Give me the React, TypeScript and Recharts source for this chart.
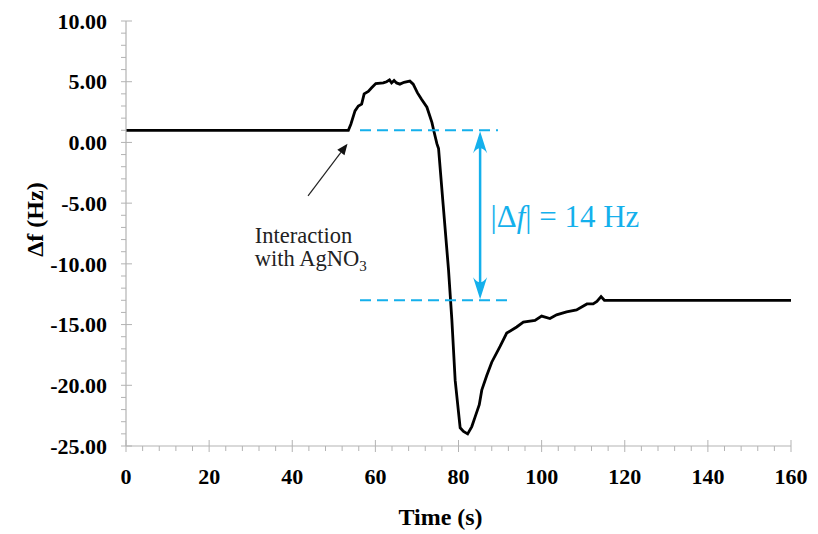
import React from 'react';
import { LineChart, Line, XAxis, YAxis, ReferenceLine, ReferenceDot } from 'recharts';

// ---- data ----
const times = [0, 53.5, 54.1, 55.1, 55.9, 56.7, 57.3, 58.3, 59.1, 60.1, 61.9, 62.7, 63.4, 63.9, 64.5, 65.1, 65.9, 66.9, 68.3, 69.1, 70.1, 71.1, 72.4, 73.6, 74.1, 74.8, 75.2, 76.3, 77.6, 78.4, 79.2, 80.4, 81.2, 82.2, 83.2, 84.0, 85.0, 85.6, 86.8, 88.0, 90.0, 91.6, 94.0, 95.6, 98.4, 100.0, 102.0, 103.6, 106.0, 108.4, 110.9, 112.4, 113.3, 114.3, 115.1, 160];
const values = [1.0, 1.0, 1.5, 2.6, 3.0, 3.15, 4.0, 4.2, 4.5, 4.85, 4.9, 5.0, 5.15, 4.9, 5.1, 4.9, 4.8, 4.95, 5.05, 4.8, 4.1, 3.55, 2.9, 1.65, 0.9, -0.1, -0.5, -5.1, -10.5, -14.6, -19.6, -23.5, -23.8, -24.0, -23.4, -22.6, -21.6, -20.4, -19.2, -18.1, -16.8, -15.7, -15.2, -14.8, -14.65, -14.3, -14.5, -14.2, -13.95, -13.8, -13.3, -13.3, -13.1, -12.7, -13.0, -13.0];

const xMajorTicks = [0, 20, 40, 60, 80, 100, 120, 140, 160];
const xMinorStep = 4;
const yMajorTicks = [-25, -20, -15, -10, -5, 0, 5, 10];
const yMinorStep = 1;

// annotation values
const levelTop = 1;
const levelBottom = -13;
const levelTopSpan = [56.3, 89.5];
const levelBottomSpan = [56.3, 93.1];
const deltaArrowX = 85.2;
const deltaLabelPos = [87.7, -6.94];
const deltaLabel = ['|Δ', 'f', '| = 14 Hz'];
const injectArrow = [[43.8, -4.4], [53.3, -0.1]];
const injectLabelPos = [31.0, -8.3];
const injectLabelLines = ['Interaction', 'with AgNO', '3'];

const data = times.map((t, i) => ({ t, v: values[i] }));
const xTicks = Array.from({ length: 160 / xMinorStep + 1 }, (_, i) => i * xMinorStep);
const yTicks = Array.from({ length: 35 / yMinorStep + 1 }, (_, i) => -25 + i * yMinorStep);

const SERIF = '"Liberation Serif", "Times New Roman", serif';
const AXIS = '#b3b3b3';
const CYAN = '#14b0ec';

const XTick = (props: any) => {
  const { x, y, payload } = props;
  const v = payload.value;
  const major = xMajorTicks.includes(v);
  return (
    <g>
      <line x1={x} x2={x} y1={major ? y - 6 : y} y2={y + (major ? 6 : 5)} stroke={AXIS} strokeWidth={1} />
      {major && (
        <text x={x} y={y + 30} textAnchor="middle" dy="0.35em" fontFamily={SERIF} fontWeight="bold" fontSize={22} fill="#000">
          {v}
        </text>
      )}
    </g>
  );
};

const YTick = (props: any) => {
  const { x, y, payload } = props;
  const v = payload.value;
  const major = yMajorTicks.includes(v);
  return (
    <g>
      <line x1={x - 5} x2={major ? x + 6 : x} y1={y} y2={y} stroke={AXIS} strokeWidth={1} />
      {major && (
        <text x={x - 19} y={y} textAnchor="end" dy="0.35em" fontFamily={SERIF} fontWeight="bold" fontSize={22} fill="#000">
          {v.toFixed(2)}
        </text>
      )}
    </g>
  );
};

const DoubleArrow = (props: any) => {
  const { x1, y1, y2 } = props;
  const top = Math.min(y1, y2);
  const bot = Math.max(y1, y2);
  const x = x1;
  const head = (tipY: number, dir: number) =>
    `M${x},${tipY} L${x - 7},${tipY + dir * 22} Q${x},${tipY + dir * 12} ${x + 7},${tipY + dir * 22} Z`;
  return (
    <g>
      <line x1={x} x2={x} y1={top + 8} y2={bot - 8} stroke={CYAN} strokeWidth={2.5} />
      <path d={head(top + 1, 1)} fill={CYAN} />
      <path d={head(bot - 1, -1)} fill={CYAN} />
    </g>
  );
};

const ThinArrow = (props: any) => {
  const { x1, y1, x2, y2 } = props;
  const ang = Math.atan2(y2 - y1, x2 - x1);
  const L = 11;
  const W = 4.5;
  const bx = x2 - L * Math.cos(ang);
  const by = y2 - L * Math.sin(ang);
  const px = -Math.sin(ang) * W;
  const py = Math.cos(ang) * W;
  return (
    <g>
      <line x1={x1} y1={y1} x2={bx} y2={by} stroke="#222" strokeWidth={1.2} />
      <path d={`M${x2},${y2} L${bx + px},${by + py} L${bx - px},${by - py} Z`} fill="#111" />
    </g>
  );
};

const InjectText = (props: any) => {
  const { cx, cy } = props;
  return (
    <text x={cx} y={cy} fontFamily={SERIF} fontSize={22.5} fill="#222">
      <tspan x={cx} y={cy}>{injectLabelLines[0]}</tspan>
      <tspan x={cx} y={cy + 23}>{injectLabelLines[1]}</tspan>
      <tspan dy={5} fontSize={15}>{injectLabelLines[2]}</tspan>
    </text>
  );
};

const DeltaText = (props: any) => {
  const { cx, cy } = props;
  return (
    <text x={cx} y={cy} fontFamily={SERIF} fontSize={31} fill={CYAN}>
      <tspan>{deltaLabel[0]}</tspan>
      <tspan fontStyle="italic">{deltaLabel[1]}</tspan>
      <tspan>{deltaLabel[2]}</tspan>
    </text>
  );
};

export default function App() {
  return (
    <div style={{ position: 'absolute', left: 0, top: 0, width: 818, height: 534 }}>
      <LineChart width={818} height={534} data={data} margin={{ top: 21, right: 27, bottom: 0, left: 0 }}>
        <XAxis
          dataKey="t"
          type="number"
          domain={[0, 160]}
          ticks={xTicks}
          interval={0}
          tickSize={0}
          tickMargin={0}
          tickLine={false}
          tick={<XTick />}
          axisLine={{ stroke: AXIS, strokeWidth: 1.2 }}
          height={88}
          label={{
            content: (p: any) => {
              const vb = p.viewBox;
              return (
                <text x={vb.x + vb.width / 2 - 18} y={vb.y + 79} textAnchor="middle" fontFamily={SERIF} fontWeight="bold" fontSize={24} fill="#000">
                  Time (s)
                </text>
              );
            },
          }}
        />
        <YAxis
          type="number"
          domain={[-25, 10]}
          ticks={yTicks}
          interval={0}
          tickSize={0}
          tickMargin={0}
          tickLine={false}
          tick={<YTick />}
          axisLine={{ stroke: AXIS, strokeWidth: 1.2 }}
          width={126}
          label={{
            content: (p: any) => {
              const vb = p.viewBox;
              const cx = vb.x + 35;
              const cy = vb.y + vb.height / 2 - 14;
              return (
                <text x={cx} y={cy} transform={`rotate(-90 ${cx} ${cy})`} textAnchor="middle" dy="0.35em" fontFamily={SERIF} fontWeight="bold" fontSize={24} fill="#000">
                  Δf (Hz)
                </text>
              );
            },
          }}
        />
        <Line dataKey="v" type="linear" stroke="#000" strokeWidth={2.8} dot={false} isAnimationActive={false} />
        <ReferenceLine
          segment={[{ x: levelTopSpan[0], y: levelTop }, { x: levelTopSpan[1], y: levelTop }]}
          stroke={CYAN}
          strokeWidth={2}
          strokeDasharray="11 6"
        />
        <ReferenceLine
          segment={[{ x: levelBottomSpan[0], y: levelBottom }, { x: levelBottomSpan[1], y: levelBottom }]}
          stroke={CYAN}
          strokeWidth={2}
          strokeDasharray="11 6"
        />
        <ReferenceLine
          segment={[{ x: deltaArrowX, y: levelTop }, { x: deltaArrowX, y: levelBottom }]}
          shape={(p: any) => <DoubleArrow {...p} />}
        />
        <ReferenceLine
          segment={[{ x: injectArrow[0][0], y: injectArrow[0][1] }, { x: injectArrow[1][0], y: injectArrow[1][1] }]}
          shape={(p: any) => <ThinArrow {...p} />}
        />
        <ReferenceDot x={injectLabelPos[0]} y={injectLabelPos[1]} shape={(p: any) => <InjectText {...p} />} />
        <ReferenceDot x={deltaLabelPos[0]} y={deltaLabelPos[1]} shape={(p: any) => <DeltaText {...p} />} />
      </LineChart>
    </div>
  );
}
